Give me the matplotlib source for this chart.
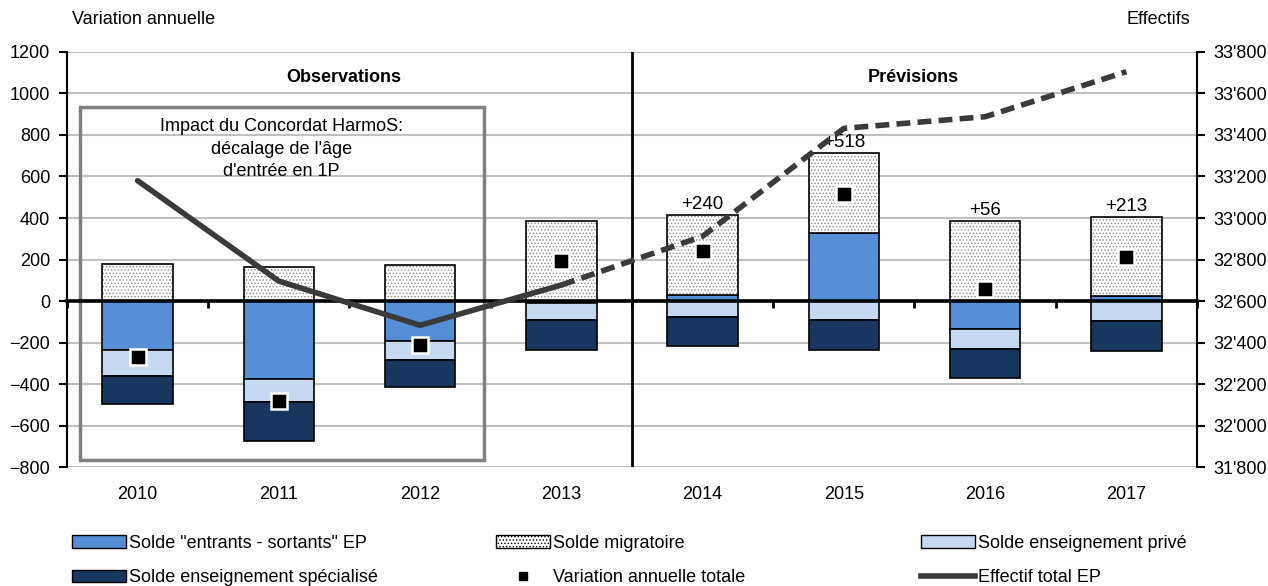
import matplotlib
matplotlib.use("Agg")
import matplotlib.pyplot as plt
import matplotlib.ticker as mticker
from matplotlib.patches import Patch, Rectangle
from matplotlib.lines import Line2D
import numpy as np

plt.rcParams['font.family'] = ['Liberation Sans', 'DejaVu Sans']
plt.rcParams['font.size'] = 13
plt.rcParams['hatch.linewidth'] = 0.6

years = ['2010', '2011', '2012', '2013', '2014', '2015', '2016', '2017']
entrants = [-237, -375, -192, -10, 29, 328, -136, 26]
migratoire = [178, 163, 173, 386, 387, 384, 384, 379]
prive = [-126, -113, -90, -82, -76, -92, -96, -97]
specialise = [-134, -185, -133, -142, -140, -142, -141, -143]
variation = [-270, -484, -213, 195, 240, 518, 56, 213]
effectif = [33180, 32696, 32483, 32677, 32912, 33432, 33488, 33705]
labels_prev = ['', '', '', '', '+240', '+518', '+56', '+213']

c_entr = '#558ED5'
c_prive = '#C6D9F1'
c_spec = '#17375E'

x = np.arange(len(years))
w = 0.5

fig = plt.figure(figsize=(12.68, 5.86), dpi=100)
ax = fig.add_axes([0.0528, 0.203, 0.8912, 0.7083])

# stacking: positive values up, negative down
entr = np.array(entrants, dtype=float)
pos_base = np.where(entr > 0, entr, 0)
neg_base = np.where(entr < 0, entr, 0)

ax.bar(x, entr, w, color=c_entr, edgecolor='black', lw=1.2, zorder=3)
ax.bar(x, migratoire, w, bottom=pos_base, color='white', edgecolor='#8a8a8a',
       hatch='.....', lw=0, zorder=3)
ax.bar(x, migratoire, w, bottom=pos_base, fill=False, edgecolor='black', lw=1.2, zorder=3)
ax.bar(x, prive, w, bottom=neg_base, color=c_prive, edgecolor='black', lw=1.2, zorder=3)
ax.bar(x, specialise, w, bottom=neg_base + np.array(prive), color=c_spec,
       edgecolor='black', lw=1.2, zorder=3)
ax.plot(x, variation, 's', color='black', ms=12, mec='white', mew=1.8, ls='none', zorder=5)

tops = pos_base + np.array(migratoire)
for xi, t, lab in zip(x, tops, labels_prev):
    if lab:
        ax.text(xi, t + 10, lab, ha='center', va='bottom', fontsize=13.5, zorder=6)

ax.set_xlim(-0.5, 7.5)
ax.set_ylim(-800, 1200)
ax.set_yticks(range(-800, 1201, 200))
ax.yaxis.grid(True, color='#c0c0c0', lw=1.5)
ax.set_axisbelow(True)
ax.set_xticks(x)
ax.set_xticklabels(years)
ax.tick_params(axis='x', length=0, pad=14)
ax.tick_params(axis='y', length=6, width=1.5, direction='out', pad=6)
for s in ['top', 'right', 'bottom']:
    ax.spines[s].set_visible(False)
ax.spines['left'].set_linewidth(1.5)

# zero axis with category ticks
sec = ax.secondary_xaxis(0.4)
sec.set_xticks(np.arange(-0.5, 8, 1))
sec.tick_params(length=5, width=2, labelbottom=False, direction='out')
sec.spines['bottom'].set_linewidth(2.6)
sec.set_zorder(4)

ax.axvline(3.5, color='black', lw=2, zorder=4)
ax.add_patch(Rectangle((-0.41, -765), 2.86, 1700, fill=False, edgecolor='#808080', lw=2.5, zorder=4))
ax.text(1.02, 880, "Impact du Concordat HarmoS:\ndécalage de l'âge\nd'entrée en 1P",
        ha='center', va='top', fontsize=13, linespacing=1.4, zorder=6)
ax.text(1.46, 1075, 'Observations', ha='center', va='center', fontsize=13, fontweight='bold')
ax.text(5.49, 1075, 'Prévisions', ha='center', va='center', fontsize=13, fontweight='bold')

ax2 = ax.twinx()
ax2.set_ylim(31800, 33800)
ax2.set_yticks(range(31800, 33801, 200))
ax2.yaxis.set_major_formatter(mticker.FuncFormatter(lambda v, p: f"{int(v):,}".replace(',', "'")))
ax2.plot(x[:4], effectif[:4], color='#3a3a3a', lw=4, solid_capstyle='round', zorder=5)
ax2.plot(x[3:], effectif[3:], color='#3a3a3a', lw=4, ls=(0, (2.5, 1.3)), zorder=5)
for s in ['top', 'left', 'bottom']:
    ax2.spines[s].set_visible(False)
ax2.spines['right'].set_linewidth(1.5)
ax2.tick_params(axis='y', length=6, width=1.5, direction='out', pad=6)

fig.text(72 / 1268, 1 - 20 / 586, 'Variation annuelle', ha='left', va='center', fontsize=13)
fig.text(1190 / 1268, 1 - 20 / 586, 'Effectifs', ha='right', va='center', fontsize=13)

# legend in three separate columns
h_entr = Patch(facecolor=c_entr, edgecolor='black')
h_spec = Patch(facecolor=c_spec, edgecolor='black')
h_migr = Patch(facecolor='white', edgecolor='black', hatch='.....')
h_var = Line2D([], [], marker='s', color='black', ls='none', ms=6)
h_prive = Patch(facecolor=c_prive, edgecolor='black')
h_eff = Line2D([], [], color='#3a3a3a', lw=4)

cols = [([h_entr, h_spec], ['Solde "entrants - sortants" EP', 'Solde enseignement spécialisé'], 72),
        ([h_migr, h_var], ['Solde migratoire', 'Variation annuelle totale'], 496),
        ([h_prive, h_eff], ['Solde enseignement privé', 'Effectif total EP'], 921)]
for hs, ls_, px in cols:
    fig.legend(hs, ls_, loc='upper left', bbox_to_anchor=(px / 1268, 1 - 535 / 586),
               frameon=False, handlelength=3.0, handleheight=0.7, handletextpad=0.15,
               labelspacing=0.95, borderpad=0, borderaxespad=0, fontsize=13)

fig.savefig('out.png', dpi=100)
